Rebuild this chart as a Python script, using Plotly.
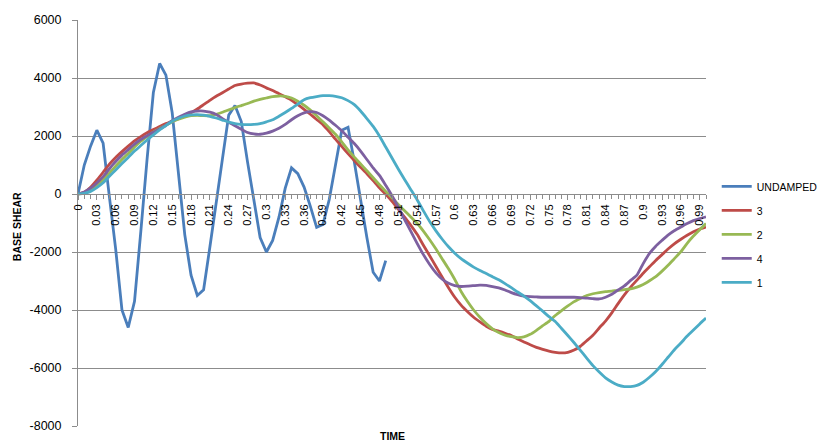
import plotly.graph_objects as go

TIME = [0.00, 0.01, 0.02, 0.03, 0.04, 0.05, 0.06, 0.07, 0.08, 0.09,
        0.10, 0.11, 0.12, 0.13, 0.14, 0.15, 0.16, 0.17, 0.18, 0.19,
        0.20, 0.21, 0.22, 0.23, 0.24, 0.25, 0.26, 0.27, 0.28, 0.29,
        0.30, 0.31, 0.32, 0.33, 0.34, 0.35, 0.36, 0.37, 0.38, 0.39,
        0.40, 0.41, 0.42, 0.43, 0.44, 0.45, 0.46, 0.47, 0.48, 0.49,
        0.50, 0.51, 0.52, 0.53, 0.54, 0.55, 0.56, 0.57, 0.58, 0.59,
        0.60, 0.61, 0.62, 0.63, 0.64, 0.65, 0.66, 0.67, 0.68, 0.69,
        0.70, 0.71, 0.72, 0.73, 0.74, 0.75, 0.76, 0.77, 0.78, 0.79,
        0.80, 0.81, 0.82, 0.83, 0.84, 0.85, 0.86, 0.87, 0.88, 0.89,
        0.90, 0.91, 0.92, 0.93, 0.94, 0.95, 0.96, 0.97, 0.98, 0.99, 1.00]

UNDAMPED = [0, 1000, 1650, 2200, 1750, -100, -1900, -4000, -4600, -3700,
            -1300, 1200, 3500, 4500, 4100, 2800, 700, -1400, -2800, -3500,
            -3300, -1830, -310, 1210, 2720, 3050, 2500, 1100, -200, -1500,
            -2000, -1600, -800, 200, 900, 700, 240, -425, -1150, -1050,
            -200, 1000, 2200, 2300, 1100, -200, -1500, -2700, -3000, -2300]

S3 = [0, 60, 230, 480, 750, 1030, 1260, 1460, 1650, 1830,
      1980, 2110, 2220, 2330, 2430, 2510, 2600, 2700, 2800, 2930,
      3080, 3230, 3370, 3490, 3620, 3740, 3790, 3820, 3830, 3760,
      3660, 3570, 3460, 3350, 3230, 3080, 2920, 2750, 2570, 2390,
      2150, 1890, 1640, 1390, 1150, 920, 700, 460, 210, -10,
      -250, -520, -800, -1080, -1390, -1770, -2130, -2500, -2870, -3230,
      -3560, -3830, -4050, -4250, -4410, -4560, -4670, -4730, -4800, -4880,
      -5000, -5100, -5200, -5290, -5360, -5420, -5460, -5480, -5460, -5380,
      -5250, -5060, -4870, -4620, -4380, -4100, -3780, -3480, -3210, -2970,
      -2730, -2510, -2290, -2090, -1890, -1710, -1560, -1420, -1300, -1210, -1140]

S2 = [0, 40, 150, 300, 480, 720, 960, 1190, 1400, 1620,
      1820, 1980, 2130, 2260, 2370, 2490, 2580, 2650, 2700, 2710,
      2700, 2700, 2750, 2820, 2900, 2980, 3050, 3120, 3200, 3260,
      3310, 3360, 3380, 3370, 3310, 3200, 3060, 2890, 2700, 2490,
      2280, 2060, 1800, 1520, 1270, 1040, 800, 560, 320, 90,
      -130, -360, -580, -790, -1010, -1280, -1580, -1900, -2240, -2580,
      -2950, -3360, -3700, -4000, -4250, -4470, -4650, -4780, -4870, -4920,
      -4950, -4930, -4840, -4700, -4540, -4390, -4190, -4020, -3860, -3710,
      -3600, -3500, -3440, -3400, -3370, -3350, -3320, -3300, -3270, -3210,
      -3120, -2990, -2850, -2660, -2450, -2220, -1990, -1700, -1450, -1230, -1020]

S4 = [0, 70, 200, 380, 600, 870, 1120, 1340, 1530, 1720,
      1880, 2010, 2130, 2240, 2370, 2530, 2650, 2750, 2830, 2860,
      2860, 2820, 2740, 2600, 2470, 2350, 2230, 2120, 2070, 2060,
      2100, 2170, 2270, 2400, 2560, 2700, 2800, 2840, 2810, 2700,
      2550, 2370, 2180, 1960, 1740, 1480, 1190, 900, 640, 300,
      -60, -450, -880, -1290, -1700, -2090, -2430, -2720, -2940, -3080,
      -3160, -3190, -3180, -3160, -3140, -3150, -3190, -3240, -3310, -3400,
      -3470, -3520, -3540, -3550, -3560, -3560, -3560, -3560, -3560, -3560,
      -3570, -3590, -3610, -3620, -3560, -3460, -3310, -3170, -2980, -2800,
      -2400, -2050, -1800, -1600, -1410, -1260, -1140, -1020, -920, -850, -790]

S1 = [0, 20, 90, 220, 390, 610, 830, 1050, 1260, 1480,
      1670, 1860, 2040, 2210, 2360, 2510, 2610, 2690, 2730, 2740,
      2720, 2680, 2620, 2550, 2480, 2430, 2400, 2390, 2400, 2430,
      2490, 2560, 2680, 2810, 2950, 3100, 3250, 3320, 3360, 3390,
      3390, 3370, 3320, 3220, 3080, 2860, 2600, 2330, 2000, 1620,
      1240, 860, 500, 150, -200, -580, -950, -1270, -1560, -1820,
      -2040, -2230, -2380, -2520, -2640, -2740, -2850, -2960, -3090, -3230,
      -3380, -3520, -3680, -3860, -4040, -4230, -4400, -4640, -4880, -5130,
      -5390, -5660, -5920, -6140, -6340, -6480, -6590, -6640, -6640, -6600,
      -6490, -6320, -6120, -5880, -5620, -5360, -5140, -4900, -4690, -4480, -4280]

TICK_VALS = [0.00, 0.03, 0.06, 0.09, 0.12, 0.15, 0.18, 0.21, 0.24, 0.27,
             0.30, 0.33, 0.36, 0.39, 0.42, 0.45, 0.48, 0.51, 0.54, 0.57,
             0.60, 0.63, 0.66, 0.69, 0.72, 0.75, 0.78, 0.81, 0.84, 0.87,
             0.90, 0.93, 0.96, 0.99]
TICK_TEXT = ["0", "0.03", "0.06", "0.09", "0.12", "0.15", "0.18", "0.21", "0.24", "0.27",
             "0.3", "0.33", "0.36", "0.39", "0.42", "0.45", "0.48", "0.51", "0.54", "0.57",
             "0.6", "0.63", "0.66", "0.69", "0.72", "0.75", "0.78", "0.81", "0.84", "0.87",
             "0.9", "0.93", "0.96", "0.99"]
Y_TICK_VALS = [6000, 4000, 2000, 0, -2000, -4000, -6000, -8000]
Y_TICK_TEXT = ["6000", "4000", "2000", "0", "-2000", "-4000", "-6000", "-8000"]

SERIES = [
    ("UNDAMPED", UNDAMPED, "#4A7EBB"),
    ("3", S3, "#BE4B48"),
    ("2", S2, "#98B954"),
    ("4", S4, "#7D60A0"),
    ("1", S1, "#4BACC6"),
]

FONT = "Liberation Sans, Arial, sans-serif"
GRID = "#8c8c8c"

fig = go.Figure()
for i, (name, vals, color) in enumerate(SERIES):
    fig.add_trace(go.Scatter(
        x=TIME[:len(vals)], y=vals, name=name, mode="lines",
        line=dict(color=color, width=2.8, shape="spline",
                  smoothing=0.5 if name != "UNDAMPED" else 0),
        legendgroup=f"g{i}",
    ))

fig.update_layout(
    width=821, height=442,
    margin=dict(l=78, r=115, t=20, b=16, autoexpand=False),
    paper_bgcolor="white", plot_bgcolor="white",
    font=dict(family=FONT, size=12, color="#000000"),
    showlegend=True,
    legend=dict(
        xref="container", yref="container",
        x=0.873, y=0.611, xanchor="left", yanchor="top",
        font=dict(size=10.5, color="#000000"),
        tracegroupgap=5, bgcolor="rgba(0,0,0,0)",
    ),
    xaxis=dict(
        range=[0, 1.0], anchor="free", position=8 / 14, automargin=False,
        tickmode="array", tickvals=TICK_VALS, ticktext=TICK_TEXT,
        tickangle=-90, tickfont=dict(size=11, family=FONT),
        ticks="outside", ticklen=5, tickcolor=GRID,
        minor=dict(dtick=0.01, tick0=0, ticks="outside", ticklen=4,
                   tickcolor=GRID, showgrid=False),
        showline=True, linecolor=GRID, linewidth=1,
        showgrid=False, zeroline=False,
    ),
    yaxis=dict(
        range=[-8000, 6000], automargin=False,
        tickmode="array", tickvals=Y_TICK_VALS, ticktext=Y_TICK_TEXT,
        tickfont=dict(size=12.5, family=FONT),
        ticks="outside", ticklen=5, tickcolor=GRID, ticklabelstandoff=8,
        showline=True, linecolor=GRID, linewidth=1,
        showgrid=True, gridcolor=GRID, gridwidth=1,
        zeroline=False, domain=[0, 1],
    ),
    annotations=[
        dict(text="<b>BASE SHEAR</b>", xref="paper", yref="paper",
             x=-0.097, y=0.49, textangle=-90, showarrow=False,
             xanchor="center", yanchor="middle",
             font=dict(size=10.5, family=FONT)),
        dict(text="<b>TIME</b>", xref="paper", yref="paper",
             x=0.5, y=-0.025, showarrow=False, xanchor="center", yanchor="middle",
             font=dict(size=10.5, family=FONT)),
    ],
)

fig.write_html("out.html",
               config={"displayModeBar": False},
               post_script="document.body.style.margin='0';document.body.style.padding='0';")
